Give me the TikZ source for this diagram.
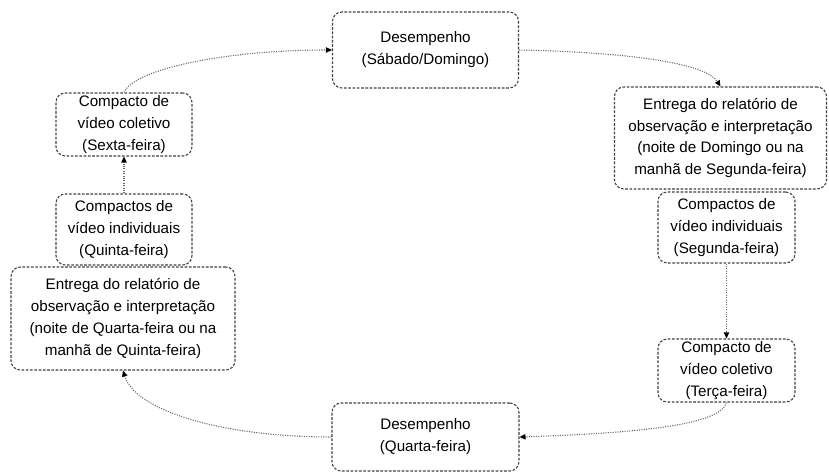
\documentclass[tikz,border=0pt]{standalone}
\usepackage{fontspec}
\setmainfont{Liberation Sans}
\usetikzlibrary{arrows.meta}
\tikzset{
  box/.style={draw=black!75, line width=0.8pt, dash pattern=on 2pt off 1.2pt, rounded corners=7pt,
    align=center, inner sep=0pt, font=\fontsize{11.4}{16.4}\selectfont, text=black},
  conn/.style={draw=black!60, line width=0.8pt, densely dotted,
    -{Triangle[length=4.5pt,width=4pt,color=black]}},
}
\begin{document}
\begin{tikzpicture}[x=0.75pt,y=-0.75pt]
\useasboundingbox (0,0) rectangle (829,473);
\node[box, minimum width=186*0.75pt, minimum height=76*0.75pt] (b1) at (425.5,50) {Desempenho\\(Sábado/Domingo)};
\node[box, minimum width=212*0.75pt, minimum height=102*0.75pt] (b2) at (720.5,138) {Entrega do relatório de\\observação e interpretação\\(noite de Domingo ou na\\manhã de Segunda-feira)};
\node[box, minimum width=137*0.75pt, minimum height=71*0.75pt] (b3) at (726.5,227.5) {Compactos de\\vídeo individuais\\(Segunda-feira)};
\node[box, minimum width=137*0.75pt, minimum height=63*0.75pt] (b4) at (726.5,370.5) {Compacto de\\vídeo coletivo\\(Terça-feira)};
\node[box, minimum width=187*0.75pt, minimum height=68*0.75pt] (b5) at (425.5,437) {Desempenho\\(Quarta-feira)};
\node[box, minimum width=224*0.75pt, minimum height=103*0.75pt] (b6) at (123,318.5) {Entrega do relatório de\\observação e interpretação\\(noite de Quarta-feira ou na\\manhã de Quinta-feira)};
\node[box, minimum width=136*0.75pt, minimum height=71*0.75pt] (b7) at (124,229.5) {Compactos de\\vídeo individuais\\(Quinta-feira)};
\node[box, minimum width=136*0.75pt, minimum height=63*0.75pt] (b8) at (124,124.5) {Compacto de\\vídeo coletivo\\(Sexta-feira)};

\draw[conn] (b8.north) .. controls (135,68) and (230,50) .. (b1.west);
\draw[conn] (b1.east) .. controls (620,52) and (705,62) .. (b2.north);
\draw[conn] (b3.south) -- (b4.north);
\draw[conn] (b4.south) .. controls (720,425) and (640,433) .. (b5.east);
\draw[conn] (b5.west) .. controls (220,437) and (135,410) .. (b6.south);
\draw[conn] (b7.north) -- (b8.south);
\end{tikzpicture}
\end{document}
